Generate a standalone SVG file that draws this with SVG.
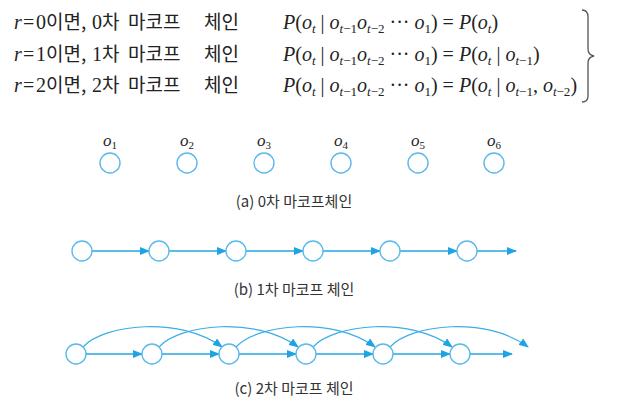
<svg xmlns="http://www.w3.org/2000/svg" width="619" height="403" viewBox="0 0 619 403">
<style>
.m{font-family:"Liberation Serif",serif;font-size:20px;fill:#222}
.i{font-style:italic}
.s{font-size:13px}
.k{font-family:"Noto Sans CJK KR",sans-serif;font-size:19px;fill:#222}
.cap{font-family:"Noto Sans CJK KR",sans-serif;font-size:15px;fill:#333;text-anchor:middle}
.lab{font-family:"Liberation Serif",serif;font-size:17px;font-style:italic;fill:#222}
.lab .s{font-size:11px;font-style:normal}
.node{fill:#fff;stroke:#5ab9ea;stroke-width:1.4}
.edge{fill:none;stroke:#22a6e3;stroke-width:1.3}
.arc{fill:none;stroke:#3aaee6;stroke-width:1.2}
</style>
<defs>
<marker id="ah" markerWidth="10" markerHeight="8" refX="9" refY="4" orient="auto" markerUnits="userSpaceOnUse">
<path d="M0,0 L10,4 L0,8 z" fill="#1ea4e2"/>
</marker>
</defs>

<g id="formulas">
<text class="m" y="29"><tspan x="14" class="i">r</tspan><tspan x="23">=</tspan><tspan x="36">0</tspan></text>
<text class="k" y="29"><tspan x="46">이면,</tspan><tspan x="92" class="m" style="font-size:20px">0</tspan><tspan x="102">차</tspan><tspan x="128">마코프</tspan><tspan x="204">체인</tspan></text>
<text class="m" y="61"><tspan x="14" class="i">r</tspan><tspan x="23">=</tspan><tspan x="36">1</tspan></text>
<text class="k" y="61"><tspan x="46">이면,</tspan><tspan x="92" class="m" style="font-size:20px">1</tspan><tspan x="102">차</tspan><tspan x="128">마코프</tspan><tspan x="204">체인</tspan></text>
<text class="m" y="92"><tspan x="14" class="i">r</tspan><tspan x="23">=</tspan><tspan x="36">2</tspan></text>
<text class="k" y="92"><tspan x="46">이면,</tspan><tspan x="92" class="m" style="font-size:20px">2</tspan><tspan x="102">차</tspan><tspan x="128">마코프</tspan><tspan x="204">체인</tspan></text>

<text class="m" y="29"><tspan x="283" class="i">P</tspan>(<tspan class="i">o</tspan><tspan class="s i" dy="4">t</tspan><tspan dy="-4"> | </tspan><tspan class="i">o</tspan><tspan class="s" dy="4"><tspan class="i">t</tspan>−1</tspan><tspan class="i" dy="-4">o</tspan><tspan class="s" dy="4"><tspan class="i">t</tspan>−2</tspan><tspan dy="-4"> ··· </tspan><tspan class="i">o</tspan><tspan class="s" dy="4">1</tspan><tspan dy="-4">) = </tspan><tspan class="i">P</tspan>(<tspan class="i">o</tspan><tspan class="s i" dy="4">t</tspan><tspan dy="-4">)</tspan></text>
<text class="m" y="61"><tspan x="283" class="i">P</tspan>(<tspan class="i">o</tspan><tspan class="s i" dy="4">t</tspan><tspan dy="-4"> | </tspan><tspan class="i">o</tspan><tspan class="s" dy="4"><tspan class="i">t</tspan>−1</tspan><tspan class="i" dy="-4">o</tspan><tspan class="s" dy="4"><tspan class="i">t</tspan>−2</tspan><tspan dy="-4"> ··· </tspan><tspan class="i">o</tspan><tspan class="s" dy="4">1</tspan><tspan dy="-4">) = </tspan><tspan class="i">P</tspan>(<tspan class="i">o</tspan><tspan class="s i" dy="4">t</tspan><tspan dy="-4"> | </tspan><tspan class="i">o</tspan><tspan class="s" dy="4"><tspan class="i">t</tspan>−1</tspan><tspan dy="-4">)</tspan></text>
<text class="m" y="92"><tspan x="283" class="i">P</tspan>(<tspan class="i">o</tspan><tspan class="s i" dy="4">t</tspan><tspan dy="-4"> | </tspan><tspan class="i">o</tspan><tspan class="s" dy="4"><tspan class="i">t</tspan>−1</tspan><tspan class="i" dy="-4">o</tspan><tspan class="s" dy="4"><tspan class="i">t</tspan>−2</tspan><tspan dy="-4"> ··· </tspan><tspan class="i">o</tspan><tspan class="s" dy="4">1</tspan><tspan dy="-4">) = </tspan><tspan class="i">P</tspan>(<tspan class="i">o</tspan><tspan class="s i" dy="4">t</tspan><tspan dy="-4"> | </tspan><tspan class="i">o</tspan><tspan class="s" dy="4"><tspan class="i">t</tspan>−1</tspan><tspan dy="-4">, </tspan><tspan class="i">o</tspan><tspan class="s" dy="4"><tspan class="i">t</tspan>−2</tspan><tspan dy="-4">)</tspan></text>
<path d="M582,10 Q588,10 588,17 L588,49 Q588,55 594,56 Q588,57 588,63 L588,96 Q588,102 582,102" fill="none" stroke="#555" stroke-width="1.3"/>
</g>

<g id="chain-a">
<g id="a1"><circle class="node" cx="110" cy="163" r="10"/><text class="lab" x="103" y="146">o<tspan class="s" dy="3">1</tspan></text></g>
<g id="a2"><circle class="node" cx="187" cy="163" r="10"/><text class="lab" x="180" y="146">o<tspan class="s" dy="3">2</tspan></text></g>
<g id="a3"><circle class="node" cx="264" cy="163" r="10"/><text class="lab" x="257" y="146">o<tspan class="s" dy="3">3</tspan></text></g>
<g id="a4"><circle class="node" cx="341" cy="163" r="10"/><text class="lab" x="334" y="146">o<tspan class="s" dy="3">4</tspan></text></g>
<g id="a5"><circle class="node" cx="418" cy="163" r="10"/><text class="lab" x="411" y="146">o<tspan class="s" dy="3">5</tspan></text></g>
<g id="a6"><circle class="node" cx="494" cy="163" r="10"/><text class="lab" x="487" y="146">o<tspan class="s" dy="3">6</tspan></text></g>
<text class="cap" x="294" y="207">(a) 0차 마코프체인</text>
</g>

<g id="chain-b-edges">
<path class="edge" marker-end="url(#ah)" d="M92,251 H149"/>
<path class="edge" marker-end="url(#ah)" d="M169,251 H226"/>
<path class="edge" marker-end="url(#ah)" d="M246,251 H303"/>
<path class="edge" marker-end="url(#ah)" d="M323,251 H380"/>
<path class="edge" marker-end="url(#ah)" d="M400,251 H457"/>
<path class="edge" marker-end="url(#ah)" d="M477,251 H516"/>
</g>
<g id="chain-b">
<g id="b1"><circle class="node" cx="82" cy="251" r="10"/></g>
<g id="b2"><circle class="node" cx="159" cy="251" r="10"/></g>
<g id="b3"><circle class="node" cx="236" cy="251" r="10"/></g>
<g id="b4"><circle class="node" cx="313" cy="251" r="10"/></g>
<g id="b5"><circle class="node" cx="390" cy="251" r="10"/></g>
<g id="b6"><circle class="node" cx="467" cy="251" r="10"/></g>
<text class="cap" x="294" y="295">(b) 1차 마코프 체인</text>
</g>

<g id="chain-c-edges">
<path class="edge" marker-end="url(#ah)" d="M86,354 H142"/>
<path class="edge" marker-end="url(#ah)" d="M162,354 H219"/>
<path class="edge" marker-end="url(#ah)" d="M239,354 H296"/>
<path class="edge" marker-end="url(#ah)" d="M316,354 H373"/>
<path class="edge" marker-end="url(#ah)" d="M393,354 H450"/>
<path class="edge" marker-end="url(#ah)" d="M470,354 H512"/>
<path class="arc" marker-end="url(#ah)" d="M83,347 C104,324 180,316 222,347"/>
<path class="arc" marker-end="url(#ah)" d="M159,347 C180,324 256,316 298,347"/>
<path class="arc" marker-end="url(#ah)" d="M236,347 C257,324 333,316 375,347"/>
<path class="arc" marker-end="url(#ah)" d="M313,347 C334,324 410,316 452,347"/>
<path class="arc" marker-end="url(#ah)" d="M390,347 C411,324 487,316 528,347"/>
</g>
<g id="chain-c">
<g id="c1"><circle class="node" cx="76" cy="354" r="10"/></g>
<g id="c2"><circle class="node" cx="152" cy="354" r="10"/></g>
<g id="c3"><circle class="node" cx="229" cy="354" r="10"/></g>
<g id="c4"><circle class="node" cx="306" cy="354" r="10"/></g>
<g id="c5"><circle class="node" cx="383" cy="354" r="10"/></g>
<g id="c6"><circle class="node" cx="460" cy="354" r="10"/></g>
<text class="cap" x="294" y="394">(c) 2차 마코프 체인</text>
</g>
</svg>
